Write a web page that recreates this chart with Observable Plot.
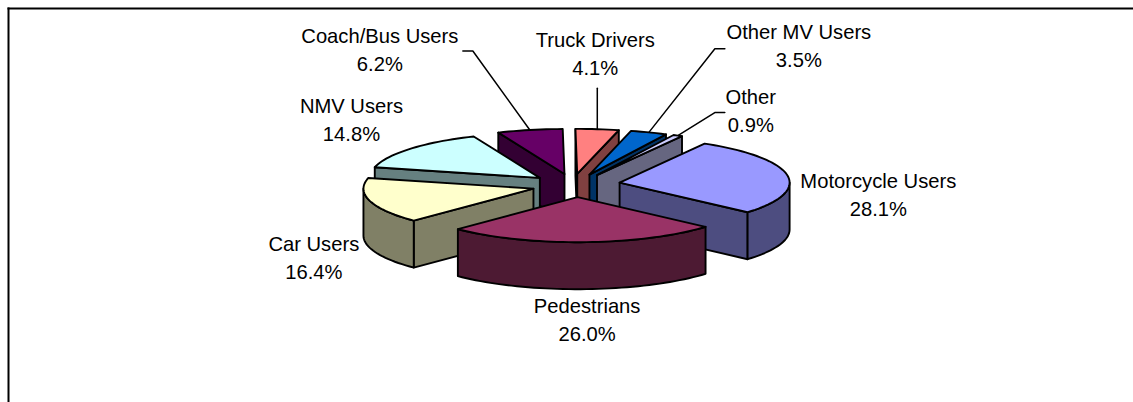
<!DOCTYPE html>
<html>
<head>
<meta charset="utf-8">
<script src="https://cdn.jsdelivr.net/npm/d3@7"></script>
<script src="https://cdn.jsdelivr.net/npm/@observablehq/plot@0.6"></script>
<style>html,body{margin:0;padding:0;background:#fff}svg{display:block}</style>
</head>
<body>
<div id="chart"></div>
<script>
const categories = ["Motorcycle Users","Pedestrians","Car Users","NMV Users","Coach/Bus Users","Truck Drivers","Other MV Users","Other"];
const shares = [28.1,26.0,16.4,14.8,6.2,4.1,3.5,0.9];
const topColors = ["#9999FF","#993366","#FFFFCC","#CCFFFF","#660066","#FF8080","#0066CC","#CCCCFF"];
const sideColors = ["#4D4D80","#4D1A33","#808066","#668080","#330033","#804040","#003366","#666680"];

// layout
const W = 1133, H = 402, cx = 575.5, cy = 185, rx = 170, ry = 45;
const startAngle = 30, explode = 0.26, depth = 47 / ry;
const drawOrder = [4,5,6,7,3,2,0,1];
const sliceShift = [[0,-1],[0,0],[0,0],[-2.5,0],[-2.5,0],[-4,0],[-2,0],[0,0]];
const labelNudge = [[91,17.5],[3.5,75.5],[-56,55.5],[-59,-30.5],[-150,-82],[-2,-77.5],[150,-88],[73,-27]];
const leaderElbow = [null,null,null,null,[[-57,-79],[-67,-79]],[[0,-41]],[[66,-83.6],[76,-83.6]],[[37,-23],[47,-23]]];

const rad = d => d * Math.PI / 180;
const total = d3.sum(shares);
const cum = d3.cumsum(shares);
const slices = categories.map((name, i) => {
  const a = startAngle + 360 * (cum[i] - shares[i]) / total;
  const b = startAngle + 360 * cum[i] / total;
  const m = (a + b) / 2;
  const ax = explode * Math.sin(rad(m)) + sliceShift[i][0] / rx;
  const ay = -explode * Math.cos(rad(m)) + sliceShift[i][1] / ry;
  const pt = (t, z = 0) => [ax + Math.sin(rad(t)), ay - Math.cos(rad(t)) + z];
  const arc = (t0, t1) => {
    const n = Math.max(1, Math.ceil((t1 - t0) / 2));
    return d3.range(n + 1).map(k => t0 + (t1 - t0) * k / n);
  };
  return {name, i, a, b, m, ax, ay, pt, arc, anchor: pt(m)};
});

const rows = [];
const push = (face, pts, fill) => pts.forEach(([x, y]) => rows.push({face, x, y, fill}));
for (const i of drawOrder) {
  const s = slices[i], side = sideColors[i];
  const apex = [s.ax, s.ay], apexLow = [s.ax, s.ay + depth];
  if (Math.sin(rad(s.a)) < 0) push(`${i}-start`, [apex, s.pt(s.a), s.pt(s.a, depth), apexLow], side);
  if (Math.sin(rad(s.b)) > 0) push(`${i}-end`, [apex, s.pt(s.b), s.pt(s.b, depth), apexLow], side);
  // outer wall: the part of the rim facing the viewer (90..270 degrees, also +360)
  for (const off of [0, 360]) {
    const t0 = Math.max(s.a, 90 + off), t1 = Math.min(s.b, 270 + off);
    if (t1 > t0) {
      const ts = s.arc(t0, t1);
      push(`${i}-wall${off}`, [...ts.map(t => s.pt(t)), ...ts.slice().reverse().map(t => s.pt(t, depth))], side);
    }
  }
  push(`${i}-top`, [apex, ...s.arc(s.a, s.b).map(t => s.pt(t))], topColors[i]);
}

const leaders = [];
slices.forEach((s, i) => {
  if (!leaderElbow[i]) return;
  const p = [s.anchor, ...leaderElbow[i].map(([dx, dy]) => [s.anchor[0] + dx / rx, s.anchor[1] + dy / ry])];
  p.forEach(([x, y]) => leaders.push({i, x, y}));
});

const labelMarks = slices.map((s, i) => Plot.text([{x: s.anchor[0], y: s.anchor[1], t: `${s.name}\n${shares[i].toFixed(1)}%`}], {
  x: "x", y: "y", text: "t", dx: labelNudge[i][0], dy: labelNudge[i][1],
  fontSize: 20.2, lineHeight: 1.39, fill: "#000", textAnchor: "middle", fontFamily: "Liberation Sans"
}));

const chart = Plot.plot({
  width: W, height: H, margin: 0,
  x: {domain: [-1, 1], range: [cx - rx, cx + rx], axis: null},
  y: {domain: [-1, 1], range: [cy - ry, cy + ry], axis: null},
  color: {type: "identity"},
  style: {background: "#fff", fontFamily: "Liberation Sans"},
  marks: [
    Plot.frame({anchor: "top", insetTop: 8, insetLeft: 8, stroke: "#000", strokeWidth: 2}),
    Plot.frame({anchor: "left", insetTop: 8, insetLeft: 8, stroke: "#000", strokeWidth: 2}),
    Plot.line(leaders, {x: "x", y: "y", z: "i", stroke: "#000", strokeWidth: 1.5}),
    Plot.line(rows, {x: "x", y: "y", z: "face", fill: "fill", stroke: "#000", strokeWidth: 1.9, strokeLinejoin: "round", curve: "linear-closed"}),
    ...labelMarks
  ]
});
document.getElementById("chart").append(chart);
</script>
</body>
</html>
